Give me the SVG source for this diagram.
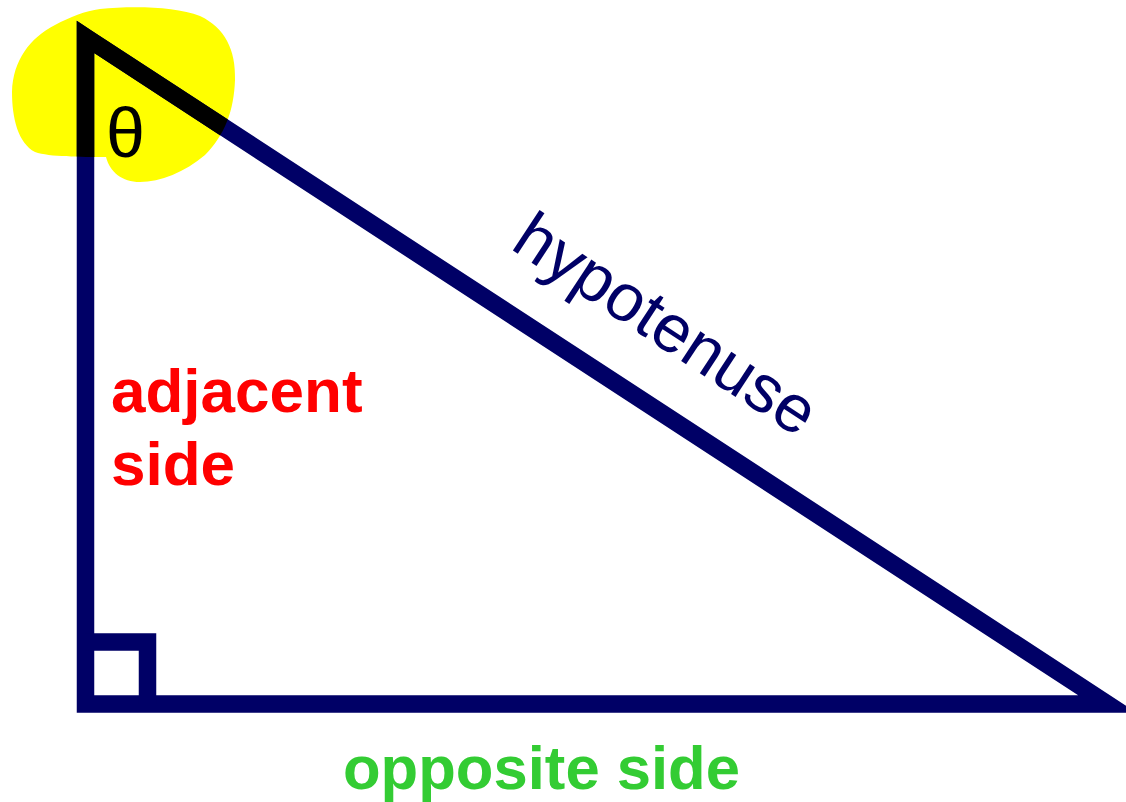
<svg xmlns="http://www.w3.org/2000/svg" width="1126" height="802" viewBox="0 0 1126 802">
<style>
.tri{fill:none;stroke:#000066;stroke-width:17.5;stroke-linejoin:miter;stroke-miterlimit:10}
.lbl{font-family:"Liberation Sans",Arial,sans-serif}
</style>
<defs>
<path id="blobShape" d="M100,9 C130,6 175,6 200,16 C225,28 236,50 235,80 C234,110 225,135 205,155 C185,172 160,182 140,182 C122,182 110,172 106,157 C80,157 50,157 35,152 C18,143 12,118 12,92 C13,60 30,38 55,25 C70,17 85,11 100,9 Z"/>
<clipPath id="blobClip"><use href="#blobShape"/></clipPath>
</defs>
<rect width="1126" height="802" fill="#ffffff"/>
<g id="highlight">
<use href="#blobShape" fill="#ffff00"/>
</g>
<g id="triangle">
<polygon class="tri" points="85.5,37 1107.5,704 85.5,704"/>
<polyline class="tri" points="85.5,642 147.5,642 147.5,704"/>
<polygon class="tri" points="85.5,37 1107.5,704 85.5,704" clip-path="url(#blobClip)" style="stroke:#000000"/>
</g>
<g id="theta">
<text class="lbl" x="106" y="157" font-size="70" fill="#000000">θ</text>
</g>
<g id="adjacent">
<text class="lbl" x="111" y="412" font-size="62" font-weight="bold" fill="#ff0000">adjacent</text>
<text class="lbl" x="111" y="485" font-size="62" font-weight="bold" fill="#ff0000">side</text>
</g>
<g id="hypotenuse">
<text class="lbl" transform="translate(509,248) rotate(33.3)" font-size="67" fill="#000066">hypotenuse</text>
</g>
<g id="opposite">
<text class="lbl" x="343" y="789" font-size="61.6" font-weight="bold" fill="#33cc33">opposite side</text>
</g>
</svg>
